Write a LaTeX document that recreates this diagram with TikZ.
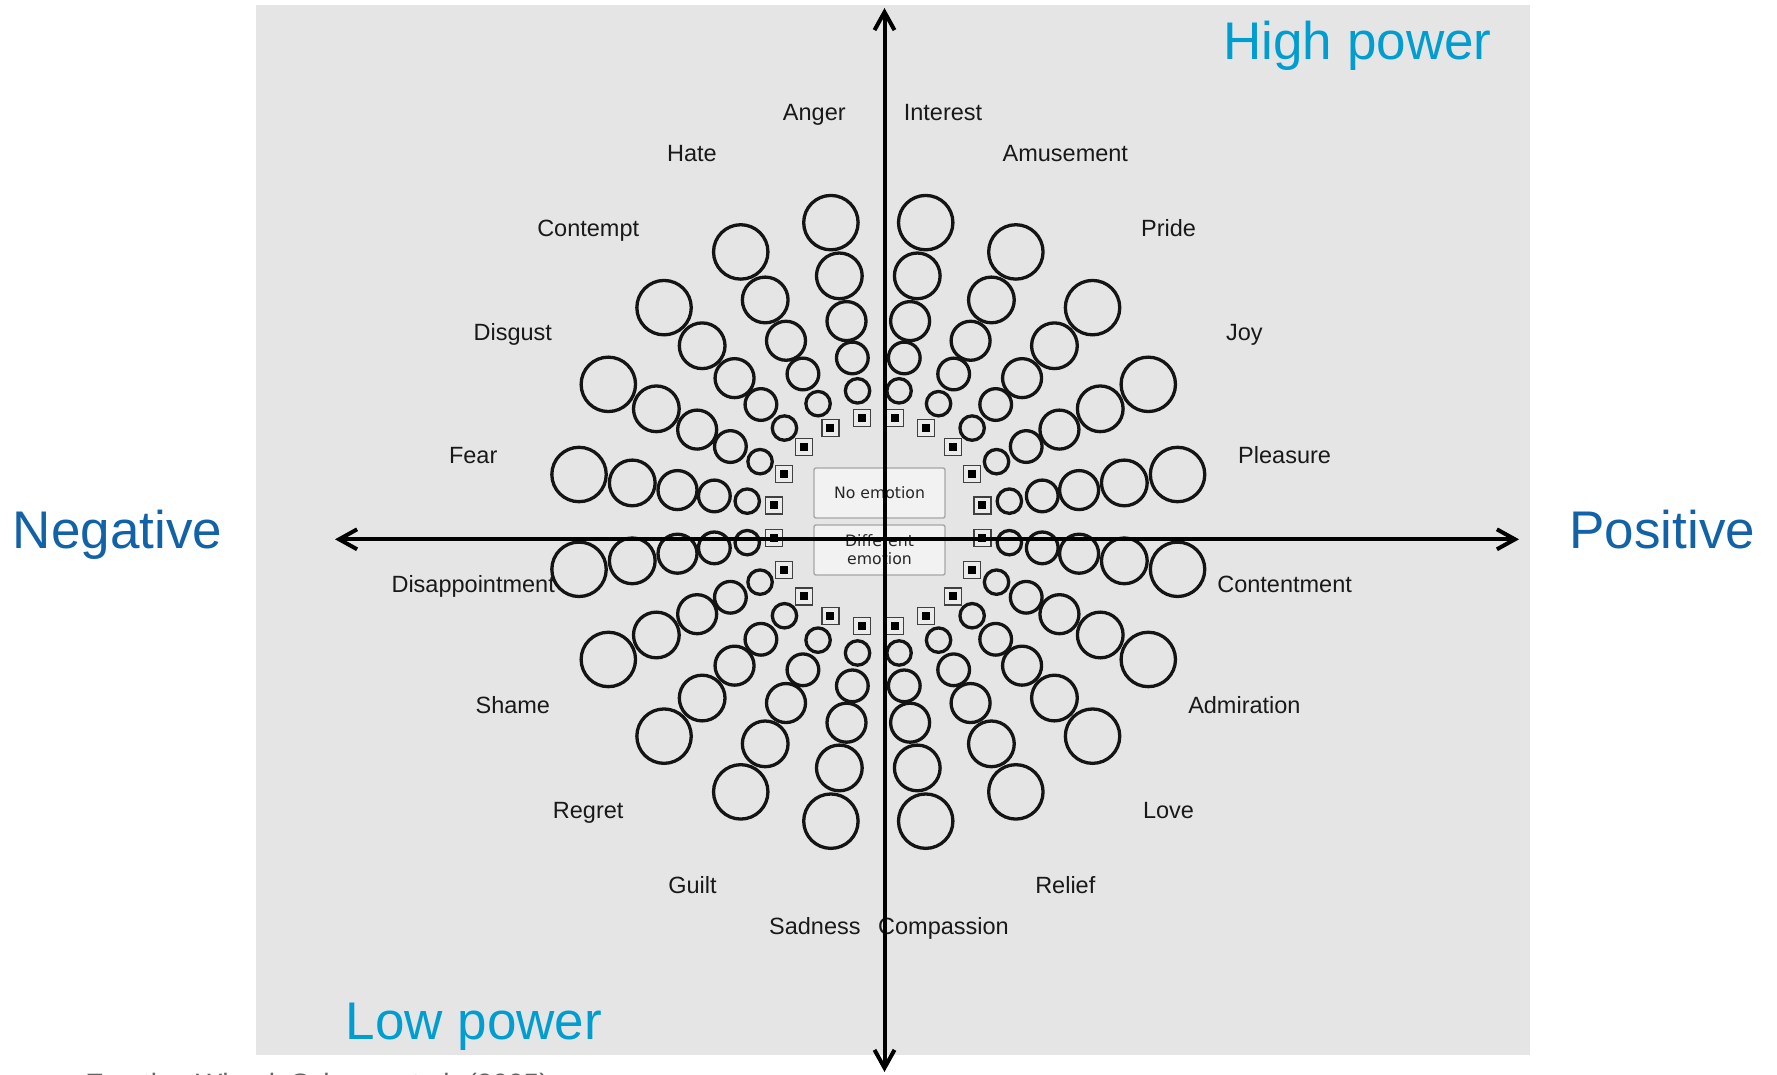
\documentclass[tikz,border=0pt]{standalone}
\usepackage{fontspec}
\setmainfont{Liberation Sans}
\newfontfamily\boxfont{DejaVu Sans}
\usetikzlibrary{arrows.meta}
\definecolor{bg}{RGB}{229,229,229}
\definecolor{hiblue}{RGB}{0,157,209}
\definecolor{dkblue}{RGB}{18,98,168}
\definecolor{capgray}{RGB}{100,100,100}
\begin{document}
\begin{tikzpicture}[x=0.5pt,y=-0.5pt,
  lbl/.style={anchor=base, inner sep=0pt, font=\fontsize{11.75}{14}\selectfont, text=black!90},
  ttl/.style={anchor=base, inner sep=0pt, font=\fontsize{26.5}{30}\selectfont},
  circ/.style={circle, draw=black!92, line width=1.65pt, inner sep=0pt},
  sq/.style={rectangle, draw=black!75, fill=white!92!black, line width=0.6pt, minimum size=8.5pt, inner sep=0pt,
    path picture={\fill[black] ([shift={(-2pt,-2pt)}]path picture bounding box.center) rectangle ([shift={(2pt,2pt)}]path picture bounding box.center);}},
  ebox/.style={draw=black!35, fill=white!95!black, line width=0.7pt, rounded corners=1pt, minimum width=65.5pt, minimum height=25pt, inner sep=0pt, align=center, font=\boxfont\fontsize{7.85}{9}\selectfont, text=black!85},
  axis/.style={line width=2pt, {Straight Barb[length=9pt,width=10pt]}-{Straight Barb[length=9pt,width=10pt]}}
]
\useasboundingbox (0,0) rectangle (1777,1075);
\fill[white] (0,0) rectangle (1777,1075);
\fill[bg] (256,5) rectangle (1530,1055);

% wheel
\foreach \k in {0,...,19}{
  \pgfmathsetmacro\a{9+18*\k}
  \node[sq] (q\k) at ({878.3+105.4*cos(\a)},{521.9+105.4*sin(\a)}) {};
  \foreach \d/\s [count=\j] in {132.7/12.2,166/15.85,203.3/19.5,249.1/22.85,303/27.2}{
    \node[circ,minimum size=\s*1pt] (c\k-\j) at ({878.3+\d*cos(\a)},{521.9+\d*sin(\a)}) {};
  }
}

% center boxes
\node[ebox] (noemo) at (879.5,493) {No emotion};
\node[ebox] (diffemo) at (879.5,550) {Different\\emotion};

% emotion labels
\node[lbl] (anger) at (814.3,120.7) {Anger};
\node[lbl] (interest) at (943,120.7) {Interest};
\node[lbl] (hate) at (691.9,161.5) {Hate};
\node[lbl] (amusement) at (1065.3,161.5) {Amusement};
\node[lbl] (contempt) at (588.2,236.3) {Contempt};
\node[lbl] (pride) at (1168.5,236.3) {Pride};
\node[lbl] (disgust) at (512.8,340.5) {Disgust};
\node[lbl] (joy) at (1244.4,340.5) {Joy};
\node[lbl] (fear) at (473.2,463) {Fear};
\node[lbl] (pleasure) at (1284.6,463) {Pleasure};
\node[lbl] (disap) at (473.2,592.2) {Disappointment};
\node[lbl] (content) at (1284.6,592.2) {Contentment};
\node[lbl] (shame) at (512.8,713.5) {Shame};
\node[lbl] (admir) at (1244.4,713.5) {Admiration};
\node[lbl] (regret) at (588.2,818.8) {Regret};
\node[lbl] (love) at (1168.5,818.8) {Love};
\node[lbl] (guilt) at (692.5,893.6) {Guilt};
\node[lbl] (relief) at (1065.3,893.6) {Relief};
\node[lbl] (sadness) at (814.9,934.5) {Sadness};
\node[lbl] (compassion) at (943.5,934.5) {Compassion};

% titles
\node[ttl, text=hiblue] (hip) at (1357.5,60) {High power};
\node[ttl, text=hiblue] (lop) at (474,1039) {Low power};
\node[ttl, text=dkblue] (neg) at (117.5,548.3) {Negative};
\node[ttl, text=dkblue] (pos) at (1662.4,548.3) {Positive};
\node[anchor=base west, inner sep=0pt, font=\fontsize{14}{17}\selectfont, text=capgray] (cap) at (85,1093) {Emotion Wheel, Scherer et al. (2005)};

% axes
\coordinate (axL) at (335,539.3);
\coordinate (axR) at (1519,539.3);
\coordinate (axT) at (884.5,8);
\coordinate (axB) at (884.5,1072);
\draw[axis] (axL) -- (axR);
\draw[axis] (axT) -- (axB);
\end{tikzpicture}
\end{document}
